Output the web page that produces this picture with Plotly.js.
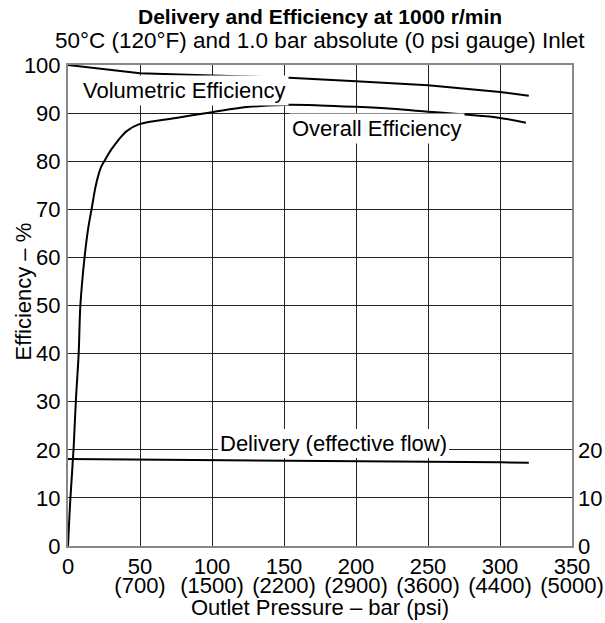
<!DOCTYPE html>
<html>
<head>
<meta charset="utf-8">
<script src="https://cdn.plot.ly/plotly-3.0.1.min.js"></script>
<style>html,body{margin:0;padding:0;background:#fff;}#chart{width:605px;height:623px;}</style>
</head>
<body>
<div id="chart"></div>
<script>
// Outlet pressure tick values and labels (bar and psi)
const pressureTicks = [0, 50, 100, 150, 200, 250, 300, 350];
const barLabels = ["0", "50", "100", "150", "200", "250", "300", "350"];
const psiTicks = [50, 100, 150, 200, 250, 300, 350];
const psiLabels = ["(700)", "(1500)", "(2200)", "(2900)", "(3600)", "(4400)", "(5000)"];

// Volumetric efficiency (%)
const volPressure = [0, 25, 50, 100, 150, 200, 250, 300, 320];
const volEff = [100, 99.1, 98.3, 97.8, 97.4, 96.6, 95.8, 94.4, 93.6];

// Overall efficiency (%)
const ovPressure = [0, 1.6, 3.9, 5.5, 7.4, 8.6, 11.5, 14, 16.6, 19, 21, 23, 26, 30, 35, 41, 49.5, 75, 100, 126, 150, 175, 200, 225, 250, 275, 300, 318];
const ovEff = [0, 9.6, 20.4, 30.4, 40, 50, 60, 66, 70.4, 74.5, 77, 78.8, 80.4, 82.4, 84.4, 86.3, 87.7, 89, 90.2, 91.3, 91.7, 91.6, 91.3, 90.9, 90.3, 89.7, 89.0, 88.0];

// Delivery (effective flow), right scale
const delPressure = [0, 50, 100, 150, 200, 250, 300, 320];
const delFlow = [18.1, 18.0, 17.9, 17.8, 17.6, 17.5, 17.4, 17.3];

const effTicks = [0, 10, 20, 30, 40, 50, 60, 70, 80, 90, 100];
const flowTicks = [0, 10, 20];

const FONT = "Liberation Sans, Arial, Helvetica, sans-serif";
const lineStyle = {color: "#000", width: 2};

const traces = [
  {x: volPressure, y: volEff, mode: "lines", line: lineStyle, name: "Volumetric Efficiency"},
  {x: ovPressure, y: ovEff, mode: "lines", line: {color: "#000", width: 2, shape: "spline", smoothing: 1.0}, name: "Overall Efficiency"},
  {x: delPressure, y: delFlow, yaxis: "y2", mode: "lines", line: lineStyle, name: "Delivery"},
  // invisible trace to activate the psi label axis
  {x: psiTicks, y: psiTicks.map(() => null), xaxis: "x2", mode: "lines", hoverinfo: "skip", showlegend: false}
];

const layout = {
  width: 605, height: 623,
  margin: {l: 68, r: 33, t: 65, b: 77},
  paper_bgcolor: "#fff", plot_bgcolor: "#fff",
  showlegend: false,
  font: {family: FONT, size: 22, color: "#000"},
  xaxis: {
    range: [0, 350], tickvals: pressureTicks, ticktext: barLabels,
    showgrid: true, gridcolor: "#222", gridwidth: 1,
    showline: true, linecolor: "#888", linewidth: 2, mirror: true,
    zeroline: false, ticks: "", tickfont: {size: 22}, fixedrange: true, tickangle: 0
  },
  xaxis2: {
    range: [0, 350], tickvals: psiTicks, ticktext: psiLabels, overlaying: "x", anchor: "y", side: "bottom",
    showgrid: false, showline: false, zeroline: false, ticks: "", tickfont: {size: 22},
    ticklabelstandoff: 24, fixedrange: true, tickangle: 0
  },
  yaxis: {
    range: [0, 100], tickvals: effTicks,
    showgrid: true, gridcolor: "#222", gridwidth: 1,
    showline: true, linecolor: "#888", linewidth: 2, mirror: true,
    zeroline: false, ticks: "", tickfont: {size: 22}, fixedrange: true, ticklabelstandoff: 1
  },
  yaxis2: {
    range: [0, 100], tickvals: flowTicks, overlaying: "y", side: "right",
    showgrid: false, showline: false, zeroline: false, ticks: "",
    tickfont: {size: 22}, fixedrange: true, ticklabelstandoff: 5
  },
  annotations: [
    {xref: "paper", yref: "paper", x: 0.5, y: 1, yshift: 48.5, xanchor: "center", yanchor: "middle",
     text: "<b>Delivery and Efficiency at 1000 r/min</b>", showarrow: false, font: {size: 21}},
    {xref: "paper", yref: "paper", x: 0.5, y: 1, yshift: 25, xanchor: "center", yanchor: "middle",
     text: "50°C (120°F) and 1.0 bar absolute (0 psi gauge) Inlet", showarrow: false, font: {size: 22.5}},
    {xref: "paper", yref: "paper", x: 0.5, y: 0, yshift: -61, xanchor: "center", yanchor: "middle",
     text: "Outlet Pressure – bar (psi)", showarrow: false, font: {size: 22}},
    {xref: "paper", yref: "paper", x: 0, y: 0.5, xshift: -45.5, yshift: 13.5, xanchor: "center", yanchor: "middle", textangle: -90,
     text: "Efficiency – %", showarrow: false, font: {size: 22}},
    {x: 8.4, y: 94.8, xanchor: "left", yanchor: "middle", text: "Volumetric Efficiency", showarrow: false,
     bgcolor: "#fff", borderpad: 2, font: {size: 22}},
    {x: 153.3, y: 86.9, xanchor: "left", yanchor: "middle", text: "Overall Efficiency", showarrow: false,
     bgcolor: "#fff", borderpad: 2, font: {size: 22}},
    {x: 184.3, y: 21.4, xanchor: "center", yanchor: "middle", text: "Delivery (effective flow)", showarrow: false,
     bgcolor: "#fff", borderpad: 2, borderwidth: 0, font: {size: 22}}
  ]
};

Plotly.newPlot("chart", traces, layout, {displayModeBar: false, staticPlot: true});
</script>
</body>
</html>
